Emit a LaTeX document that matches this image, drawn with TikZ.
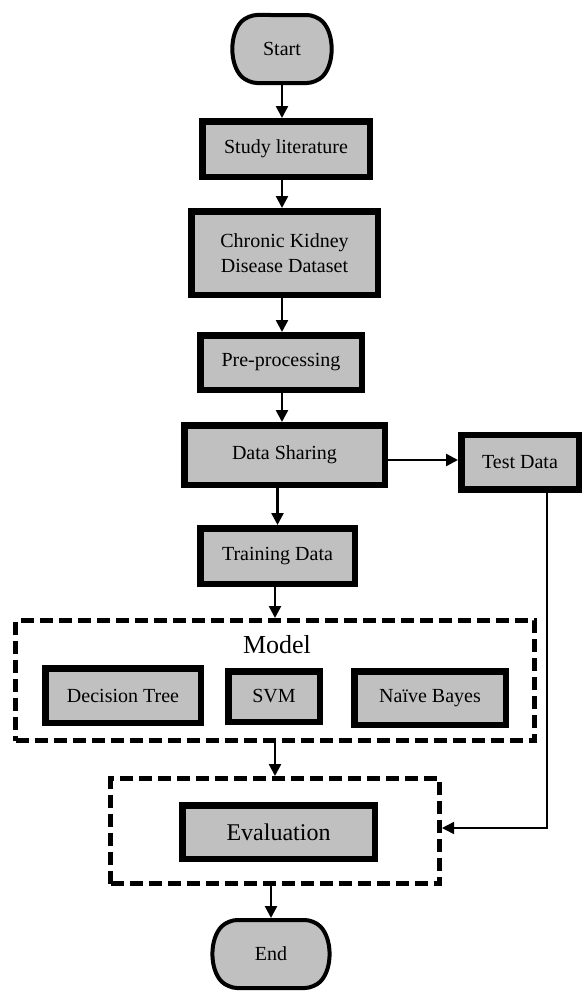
\documentclass[tikz,border=0pt]{standalone}
\usepackage{fontspec}
\setmainfont{Liberation Serif}
\usetikzlibrary{arrows.meta, shapes.misc}
\definecolor{boxgray}{RGB}{192,192,192}

\begin{document}
\begin{tikzpicture}[x=1pt, y=-1pt, >={Triangle[length=12pt,width=12pt]},
  main/.style = {draw, line width=6.5pt, fill=boxgray, inner sep=0pt, align=center, font=\fontsize{20}{25}\selectfont},
  term/.style = {draw, line width=4pt, fill=boxgray, rounded rectangle, rounded rectangle arc length=90, rounded corners=9pt, inner sep=0pt, font=\fontsize{20}{24}\selectfont},
  group/.style = {draw, line width=5pt, dash pattern=on 13pt off 6pt, inner sep=0pt},
  flow/.style = {->, line width=2.5pt}]
      \useasboundingbox (0,0) rectangle (584,996);

      \node[term] (1) at (282,49) [minimum width=85pt, minimum height=68pt] {Start};
      \node[main] (2) at (286,149) [minimum width=167.5pt, minimum height=55.5pt] {Study literature};
      \node[main] (3) at (284.5,253) [minimum width=186.5pt, minimum height=83.5pt] {Chronic Kidney\\Disease Dataset};
      \node[main] (4) at (281,362.5) [minimum width=161.5pt, minimum height=54.5pt] {Pre-processing};
      \node[main] (5) at (284.5,455) [minimum width=200.5pt, minimum height=59.5pt] {Data Sharing};
      \node[main] (6) at (520,462) [minimum width=117.5pt, minimum height=54.5pt] {Test Data};
      \node[main] (7) at (277.5,556) [minimum width=154.5pt, minimum height=55.5pt] {Training Data};

      % model group
      \node[group] (m) at (275,680.5) [minimum width=519pt, minimum height=120pt] {};
      \node (ml) at (277,645) [font=\fontsize{26}{30}\selectfont] {Model};
      \node[main] (8) at (123,695.5) [minimum width=155.5pt, minimum height=54.5pt] {Decision Tree};
      \node[main] (9) at (274,696.5) [minimum width=91.5pt, minimum height=50.5pt] {SVM};
      \node[main] (10) at (430,698) [minimum width=151.5pt, minimum height=53.5pt] {Naïve Bayes};

      % evaluation group
      \node[group] (e) at (275,831) [minimum width=329pt, minimum height=105pt] {};
      \node[main] (11) at (278.5,832) [minimum width=192.5pt, minimum height=53.5pt, font=\fontsize{24}{28}\selectfont] {Evaluation};
      \node[term] (12) at (271,954) [minimum width=114pt, minimum height=68pt] {End};

      \coordinate (t) at (547,828);

      \path[flow]
      (1.south)        edge (1.south |- 2.north)
      (2.south -| 1)   edge (3.north -| 1)
      (3.south -| 1)   edge (4.north -| 1)
      (4.south -| 1)   edge (5.north -| 1)
      (5.east |- 0,460) edge (6.west |- 0,460)
      (5.south -| 7)   edge (7.north)
      (7.south -| m)   edge (m.north)
      (m.south)        edge (e.north)
      (e.south -| 12)  edge (12.north);

      \draw[->, line width=1.5pt] (6.south -| t) -- (t) -- (e.east |- t);
    \end{tikzpicture}
\end{document}
